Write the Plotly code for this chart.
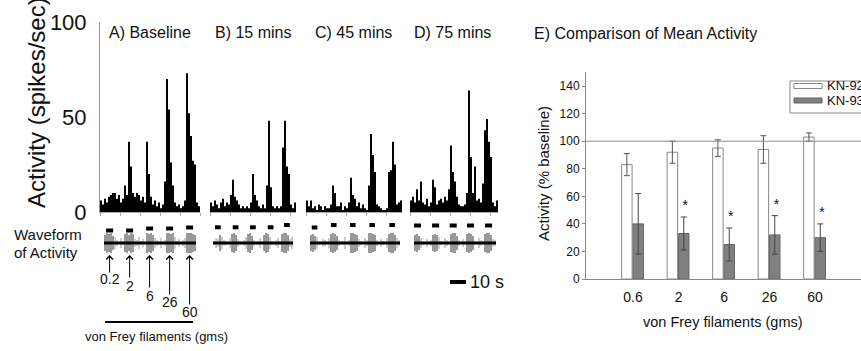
import plotly.graph_objects as go

# ---------------- data ----------------
BIN_S = 1.25  # seconds per histogram bin

hist_A = [6, 4, 7, 5, 8, 9, 10, 10, 7, 9, 5, 7, 14, 9, 37, 24, 10, 8, 10, 9,
          6, 8, 5, 37, 20, 8, 4, 6, 3, 5, 2, 4, 16, 70, 54, 26, 14, 5, 3, 4,
          2, 3, 6, 73, 52, 40, 27, 25, 5, 3]
hist_B = [5, 3, 6, 4, 2, 5, 7, 3, 5, 4, 9, 17, 8, 6, 4, 2, 3, 2, 3, 2,
          5, 20, 9, 6, 3, 2, 4, 2, 14, 48, 13, 3, 2, 3, 2, 3, 34, 48, 24, 20,
          4, 2, 5]
hist_C = [6, 3, 6, 2, 3, 1, 4, 3, 1, 3, 2, 2, 4, 14, 10, 3, 3, 5, 1, 3,
          2, 5, 18, 9, 7, 3, 5, 2, 4, 2, 1, 14, 41, 30, 21, 4, 3, 2, 1, 1,
          2, 21, 22, 37, 25, 4, 5, 6]
hist_D = [6, 8, 5, 12, 6, 16, 5, 4, 7, 3, 5, 17, 13, 4, 6, 7, 5, 8, 6, 12,
          35, 21, 16, 8, 4, 3, 3, 4, 10, 64, 29, 10, 24, 6, 7, 5, 15, 43, 49, 37,
          29, 5, 3, 6]

panel_titles = ["A) Baseline", "B) 15 mins", "C) 45 mins", "D) 75 mins"]

# stimulus (von Frey) application times, seconds from panel start
stim_on_A = [3.8, 16.3, 28.8, 41.3, 53.8]
stim_on_B = [3.1, 14.2, 25.0, 36.1, 46.3]
stim_on_C = [3.6, 15.6, 27.5, 39.6, 52.1]
stim_on_D = [2.5, 13.8, 24.8, 35.6, 46.9]
stim_dur = [4.4, 3.6, 3.5, 4.4]
stim_level_A = [12.5, 12.5, 14.5, 14.5, 15.5]
stim_level_B = [15.7, 15.7, 15.7, 15.7, 18.0]
stim_level_C = [15.5, 18.0, 18.0, 18.0, 18.0]
stim_level_D = [17.5, 17.5, 17.5, 17.5, 17.5]

# raw waveform spike amplitudes (per 1.25 s bin)
wave_A = [8, 10, 9, 10, 7, 6, 3, 0, 5, 2, 9, 10, 8, 10, 9, 4, 3, 6, 2, 4, 0,
          10, 9, 10, 8, 5, 3, 2, 5, 0, 3, 10, 10, 9, 10, 6, 2, 4, 0, 3, 5,
          10, 10, 10, 9, 8]
wave_B = [2, 5, 4, 8, 6, 3, 2, 0, 5, 9, 10, 8, 4, 2, 0, 3, 6, 9, 10, 7,
          3, 0, 2, 5, 0, 8, 10, 9, 6, 2, 0, 3, 5, 2, 9, 10, 10, 8, 4, 6]
wave_C = [8, 9, 7, 6, 2, 0, 4, 3, 0, 5, 9, 10, 9, 7, 3, 0, 2, 6, 0, 3,
          10, 10, 9, 8, 4, 2, 0, 5, 3, 10, 10, 9, 8, 3, 0, 4, 2, 0, 5, 9,
          10, 10, 8, 5, 3]
wave_D = [8, 9, 7, 5, 2, 0, 4, 0, 3, 8, 9, 8, 6, 2, 0, 5, 3, 0, 9, 10,
          10, 7, 3, 0, 4, 2, 9, 10, 9, 7, 2, 0, 5, 3, 0, 9, 10, 10, 8, 4, 3]
wave_start = [2.5, 1.9, 2.5, 2.5]

filament_labels = ["0.2", "2", "6", "26", "60"]

categories = ["0.6", "2", "6", "26", "60"]
kn92 = [83, 92, 95, 94, 103]
kn92_err = [8, 8, 6, 10, 3]
kn93 = [40, 33, 25, 32, 30]
kn93_err = [22, 12, 12, 14, 10]
kn93_sig = [False, True, True, True, True]

# ---------------- layout helpers ----------------
W, H = 861, 351
def fx(p): return p / W
def fy(p): return 1 - p / H

PX_PER_S = 1.6
FONT = "Liberation Sans, Arial, Helvetica, sans-serif"
panel_left_px = [100, 210, 306, 410]
title_left_px = [107, 213, 313, 412]

hists = [hist_A, hist_B, hist_C, hist_D]
stims = [stim_on_A, stim_on_B, stim_on_C, stim_on_D]
levels = [stim_level_A, stim_level_B, stim_level_C, stim_level_D]
waves = [wave_A, wave_B, wave_C, wave_D]
xnames = ["x", "x2", "x3", "x4"]

fig = go.Figure()
layout = dict(width=W, height=H, margin=dict(l=0, r=0, t=0, b=0, pad=0),
              autosize=False,
              paper_bgcolor="white", plot_bgcolor="white",
              font=dict(family=FONT, color="#111"), showlegend=False,
              barmode="overlay")
annotations = []
shapes = []


def label(text, xp, yp, size, xanchor="center", angle=0):
    annotations.append(dict(text=text, x=fx(xp), y=fy(yp), xref="paper", yref="paper",
                            xanchor=xanchor, yanchor="middle", showarrow=False,
                            textangle=angle, font=dict(size=size, color="#111")))


for i in range(4):
    h = hists[i]
    n = len(h)
    xa = xnames[i]
    left = panel_left_px[i]
    right = left + n * BIN_S * PX_PER_S
    key = "xaxis" if i == 0 else "xaxis%d" % (i + 1)
    layout[key] = dict(domain=[fx(left), fx(right)], range=[0, n * BIN_S],
                       anchor="y", showgrid=False, zeroline=False, automargin=False,
                       showline=True, linecolor="#aaa", linewidth=1,
                       ticks="outside", ticklen=3, tickcolor="#aaa",
                       tick0=0, dtick=12.5, showticklabels=False)
    fig.add_trace(go.Bar(x=[(k + 0.5) * BIN_S for k in range(n)], y=h,
                         width=BIN_S, marker=dict(color="black", line=dict(width=0)),
                         xaxis=xa, yaxis="y", hoverinfo="skip"))
    # waveform spikes
    w = wave_start[i]
    for strong in (False, True):
        xs, ys = [], []
        for k, a in enumerate(waves[i]):
            if a == 0 or (a >= 7) != strong:
                continue
            t = w + (k + 0.5) * BIN_S
            xs += [t, t, None]
            ys += [-a, a, None]
        fig.add_trace(go.Scatter(x=xs, y=ys, mode="lines",
                                 line=dict(color="#333" if strong else "#999", width=1),
                                 xaxis=xa, yaxis="y2", hoverinfo="skip"))
    fig.add_trace(go.Scatter(x=[w, w + len(waves[i]) * BIN_S], y=[0, 0], mode="lines",
                             line=dict(color="black", width=3),
                             xaxis=xa, yaxis="y2", hoverinfo="skip"))
    # stimulus markers
    xs, ys = [], []
    for on, lv in zip(stims[i], levels[i]):
        xs += [on, on + stim_dur[i], None]
        ys += [lv, lv, None]
    fig.add_trace(go.Scatter(x=xs, y=ys, mode="lines",
                             line=dict(color="black", width=4),
                             xaxis=xa, yaxis="y2", hoverinfo="skip"))
    label(panel_titles[i], title_left_px[i], 32, 16, xanchor="left")

layout["yaxis"] = dict(domain=[fy(212), fy(22)], range=[0, 100], anchor="x",
                       showgrid=False, zeroline=False, showline=True, automargin=False,
                       linecolor="#999", linewidth=1, ticks="",
                       tickvals=[0, 50, 100], tickfont=dict(size=22, color="#111"),
                       ticklabelstandoff=8)
layout["yaxis2"] = dict(domain=[fy(268), fy(218)], range=[-25, 25], anchor="x",
                        visible=False, automargin=False)

# arrows to the waveform for each filament (panel A)
arrow_tail_px = [274, 279, 289, 296, 306]
label_mid_px = [279, 285.5, 295.5, 302, 312]
for k, lab in enumerate(filament_labels):
    c = stim_on_A[k] + stim_dur[0] / 2
    annotations.append(dict(text="", x=c, y=fy(255), xref="x", yref="paper",
                            ax=0, ay=arrow_tail_px[k] - 255, showarrow=True,
                            arrowhead=4, arrowsize=1.3, arrowwidth=1,
                            arrowcolor="black", standoff=0, font=dict(size=1)))
    annotations.append(dict(text=lab, x=c, y=fy(label_mid_px[k]), xref="x", yref="paper",
                            xanchor="center", yanchor="middle", showarrow=False,
                            font=dict(size=14, color="#111")))

shapes.append(dict(type="line", xref="x", yref="paper",
                   x0=stim_on_A[0] - 0.6, x1=stim_on_A[-1] + stim_dur[0],
                   y0=fy(322), y1=fy(322), line=dict(color="black", width=2)))
label("von Frey filaments (gms)", 156, 336, 13)
# 10 s scale bar (panel D time axis)
shapes.append(dict(type="line", xref="x4", yref="paper", x0=25, x1=35,
                   y0=fy(282), y1=fy(282), line=dict(color="black", width=4)))
label("10 s", 468, 282, 18, xanchor="left")

label("Activity (spikes/sec)", 37, 103, 24, angle=-90)
label("Waveform", 12, 234, 15, xanchor="left")
label("of Activity", 12, 253, 15, xanchor="left")

# ---------------- panel E ----------------
idx = list(range(len(categories)))
fig.add_trace(go.Bar(x=idx, y=kn92, name="KN-92", width=0.23, offset=-0.25,
                     marker=dict(color="white", line=dict(color="#888", width=1)),
                     error_y=dict(type="data", array=kn92_err, color="#555",
                                  thickness=1, width=3),
                     xaxis="x5", yaxis="y3"))
fig.add_trace(go.Bar(x=idx, y=kn93, name="KN-93", width=0.23, offset=0.0,
                     marker=dict(color="#808080", line=dict(color="#666", width=1)),
                     error_y=dict(type="data", array=kn93_err, color="#444",
                                  thickness=1, width=3),
                     xaxis="x5", yaxis="y3"))
sx = [i + 0.15 for i in idx if kn93_sig[i]]
sy = [kn93[i] + kn93_err[i] + 7.5 for i in idx if kn93_sig[i]]
fig.add_trace(go.Scatter(x=sx, y=sy, mode="text", text=["*"] * len(sx),
                         textposition="middle center",
                         textfont=dict(size=14, color="#111"),
                         xaxis="x5", yaxis="y3", hoverinfo="skip"))

layout["xaxis5"] = dict(domain=[fx(586), 1.0], range=[-1.033, 5.01], anchor="y3",
                        showgrid=False, zeroline=False, showline=True, automargin=False,
                        linecolor="#888", linewidth=1, ticks="",
                        tickvals=idx, ticktext=categories,
                        tickfont=dict(size=14, color="#111"), ticklabelstandoff=5)
layout["yaxis3"] = dict(domain=[fy(279), fy(72.3)], range=[0, 150], anchor="x5",
                        showgrid=False, zeroline=False, showline=True, automargin=False,
                        linecolor="#888", linewidth=1, ticks="outside",
                        ticklen=3, tickcolor="#888",
                        tickvals=list(range(0, 141, 20)),
                        tickfont=dict(size=12, color="#111"))
shapes.append(dict(type="line", xref="x5 domain", yref="y3", x0=0, x1=1,
                   y0=100, y1=100, line=dict(color="#888", width=1)))
label("E) Comparison of Mean Activity", 532, 33, 16, xanchor="left")
label("Activity (% baseline)", 543, 174, 15, angle=-90)
label("von Frey filaments (gms)", 723, 322, 14.5)

# legend box drawn by hand (wide swatches like the original)
shapes.append(dict(type="rect", xref="paper", yref="paper", x0=fx(790), x1=fx(880),
                   y0=fy(113), y1=fy(81), line=dict(color="#888", width=1),
                   fillcolor="white", layer="below"))
shapes.append(dict(type="rect", xref="paper", yref="paper", x0=fx(794), x1=fx(822),
                   y0=fy(88.5), y1=fy(83.5), line=dict(color="#888", width=1),
                   fillcolor="white"))
shapes.append(dict(type="rect", xref="paper", yref="paper", x0=fx(794), x1=fx(822),
                   y0=fy(103), y1=fy(98), line=dict(color="#666", width=1),
                   fillcolor="#808080"))
label("KN-92", 825, 86, 13, xanchor="left")
label("KN-93", 825, 100.5, 13, xanchor="left")

layout["annotations"] = annotations
layout["shapes"] = shapes
fig.update_layout(**layout)

fig.write_html("out.html", config={"displayModeBar": False},
               post_script="document.body.style.margin='0';")
